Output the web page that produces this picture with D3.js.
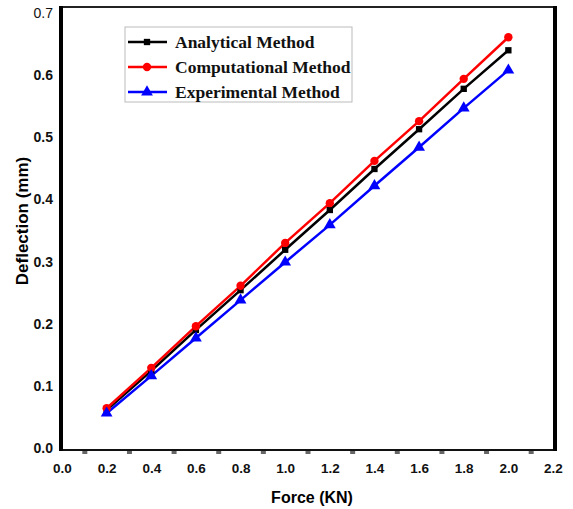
<!DOCTYPE html>
<html>
<head>
<meta charset="utf-8">
<script src="https://cdn.jsdelivr.net/npm/d3@7/dist/d3.min.js"></script>
<style>
  html, body { margin: 0; padding: 0; background: #fff; }
  svg { display: block; }
</style>
</head>
<body>
<svg id="chart" width="573" height="509"></svg>
<script>
// Applied force (kN)
const force = [0.2, 0.4, 0.6, 0.8, 1.0, 1.2, 1.4, 1.6, 1.8, 2.0];
// Deflection (mm) for each method
const analytical    = [0.061, 0.124, 0.190, 0.254, 0.319, 0.383, 0.449, 0.513, 0.578, 0.640];
const computational = [0.064, 0.129, 0.196, 0.261, 0.330, 0.394, 0.462, 0.526, 0.594, 0.661];
const experimental  = [0.056, 0.116, 0.177, 0.238, 0.299, 0.359, 0.422, 0.484, 0.547, 0.608];
// Axis tick labels
const xTicks = [0.0, 0.2, 0.4, 0.6, 0.8, 1.0, 1.2, 1.4, 1.6, 1.8, 2.0, 2.2];
const xMinorTicks = [0.1, 0.3, 0.5, 0.7, 0.9, 1.1, 1.3, 1.5, 1.7, 1.9, 2.1];
const yTicks = [0.0, 0.1, 0.2, 0.3, 0.4, 0.5, 0.6, 0.7];

const seriesNames = ["Analytical Method", "Computational Method", "Experimental Method"];
const seriesValues = [analytical, computational, experimental];
const seriesColors = ["#000000", "#ff0000", "#0000ff"];
const seriesMarkers = [d3.symbolSquare, d3.symbolCircle, d3.symbolTriangle];
const markerSizes = [40, 55, 60];

const svg = d3.select("#chart");

const x = d3.scaleLinear().domain([0, 2.2]).range([62, 553]);
const y = d3.scaleLinear().domain([0, 0.7]).range([448, 13]);

const frameLeft = x(0) - 1, frameRight = x(2.2) + 2, frameTop = y(0.7) - 6, frameBottom = y(0) + 2;

// Plot frame
svg.append("line").attr("x1", frameLeft).attr("x2", frameRight).attr("y1", frameTop).attr("y2", frameTop)
  .attr("stroke", "#222").attr("stroke-width", 2);
svg.append("line").attr("x1", frameLeft).attr("x2", frameRight).attr("y1", frameBottom).attr("y2", frameBottom)
  .attr("stroke", "#111").attr("stroke-width", 2);
svg.append("line").attr("x1", frameLeft).attr("x2", frameLeft).attr("y1", frameTop - 1).attr("y2", frameBottom + 1)
  .attr("stroke", "#000").attr("stroke-width", 4);
svg.append("line").attr("x1", frameRight).attr("x2", frameRight).attr("y1", frameTop - 1).attr("y2", frameBottom + 1)
  .attr("stroke", "#000").attr("stroke-width", 4);

// Minor tick marks under the x axis
const minorAxis = d3.axisBottom(x).tickValues(xMinorTicks).tickSize(3).tickFormat("");
const gMinor = svg.append("g").attr("transform", `translate(0,${frameBottom + 1})`).call(minorAxis);
gMinor.select(".domain").remove();
gMinor.selectAll(".tick line").attr("stroke", "#666").attr("stroke-width", 5);

// X tick labels
const xAxis = d3.axisBottom(x).tickValues(xTicks).tickSize(0).tickPadding(0)
  .tickFormat(d3.format(".1f"));
const gx = svg.append("g").attr("transform", "translate(0,468)").call(xAxis);
gx.select(".domain").remove();
gx.selectAll("text")
  .attr("dy", "0.35em").attr("y", 0)
  .style("font-family", "Liberation Sans, Arial, sans-serif")
  .style("font-size", "13.5px").style("font-weight", "bold").attr("fill", "#111");

// Y tick labels
const yAxis = d3.axisLeft(y).tickValues(yTicks).tickSize(0).tickPadding(0)
  .tickFormat(d3.format(".1f"));
const gy = svg.append("g").attr("transform", "translate(53,0)").call(yAxis);
gy.select(".domain").remove();
gy.selectAll("text")
  .style("font-family", "Liberation Sans, Arial, sans-serif")
  .style("font-size", "14px")
  .style("font-weight", d => d === 0.7 ? "normal" : "bold")
  .attr("fill", "#111");

// Axis titles
svg.append("text")
  .attr("x", 312).attr("y", 497).attr("dy", "0.35em")
  .attr("text-anchor", "middle")
  .style("font-family", "Liberation Sans, Arial, sans-serif")
  .style("font-size", "16px").style("font-weight", "bold")
  .text("Force (KN)");

svg.append("text")
  .attr("transform", "translate(22,221) rotate(-90)")
  .attr("dy", "0.35em")
  .attr("text-anchor", "middle")
  .style("font-family", "Liberation Sans, Arial, sans-serif")
  .style("font-size", "17px").style("font-weight", "bold")
  .text("Deflection (mm)");

// Series lines and markers
const line = d3.line().x((d, i) => x(force[i])).y(d => y(d));

seriesValues.forEach((vals, s) => {
  svg.append("path")
    .datum(vals)
    .attr("d", line)
    .attr("fill", "none")
    .attr("stroke", seriesColors[s])
    .attr("stroke-width", 2.5);
});

seriesValues.forEach((vals, s) => {
  svg.append("g").selectAll("path")
    .data(vals)
    .join("path")
    .attr("transform", (d, i) => `translate(${x(force[i])},${y(d)})`)
    .attr("d", d3.symbol().type(seriesMarkers[s]).size(markerSizes[s]))
    .attr("fill", seriesColors[s]);
});

// Legend
const legend = svg.append("g").attr("transform", "translate(125,27)");
legend.append("rect")
  .attr("x", 0).attr("y", 0).attr("width", 227).attr("height", 75)
  .attr("fill", "#fff").attr("stroke", "#bbb").attr("stroke-width", 1);

seriesNames.forEach((name, s) => {
  const cy = 15 + s * 25;
  legend.append("line")
    .attr("x1", 3).attr("x2", 42).attr("y1", cy).attr("y2", cy)
    .attr("stroke", seriesColors[s]).attr("stroke-width", 2.5);
  legend.append("path")
    .attr("transform", `translate(22,${cy})`)
    .attr("d", d3.symbol().type(seriesMarkers[s]).size(markerSizes[s]))
    .attr("fill", seriesColors[s]);
  legend.append("text")
    .attr("x", 50).attr("y", cy).attr("dy", "0.35em")
    .style("font-family", "Liberation Serif, 'Times New Roman', serif")
    .style("font-size", "17.5px").style("font-weight", "bold")
    .attr("fill", "#111")
    .text(name);
});
</script>
</body>
</html>
